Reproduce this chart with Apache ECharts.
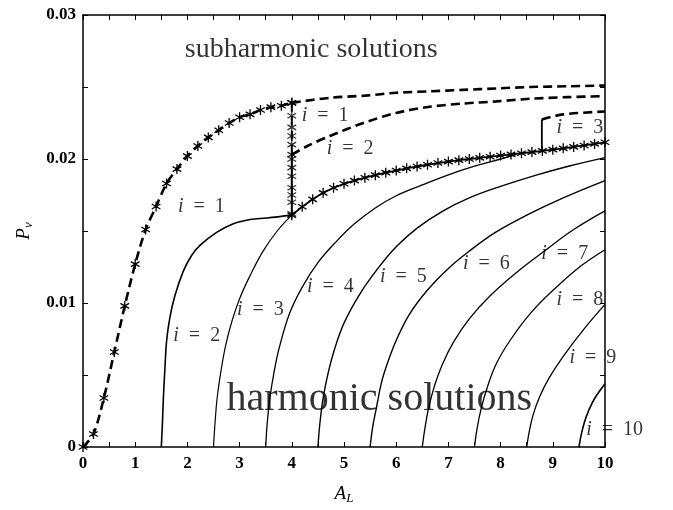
<!DOCTYPE html>
<html><head><meta charset="utf-8">
<script src="https://cdn.jsdelivr.net/npm/echarts@6/dist/echarts.min.js"></script>
<style>html,body{margin:0;padding:0;background:#fff}#c{width:673px;height:510px}</style>
</head><body><div id="c"></div>
<script>
// ---- data ----
const xTicks = [0,1,2,3,4,5,6,7,8,9,10];
const yTicks = [0,0.01,0.02,0.03];

// subharmonic i=1 branch (dashed, starred), from origin to A_L=4
const sub1Rise = [[0,0],[0.2,0.0009],[0.4,0.0034],[0.6,0.0066],[0.8,0.0098],[1.0,0.0127],[1.2,0.0151],[1.4,0.0167],[1.6,0.0183],[1.8,0.0193],[2.0,0.0202],[2.2,0.0209],[2.4,0.0215],[2.6,0.0220],[2.8,0.0225],[3.0,0.0229],[3.2,0.0231],[3.4,0.0234],[3.6,0.0236],[3.8,0.0237],[4.0,0.0239]];
const sub1Tail = [[4.0,0.0239],[4.73,0.02425],[5.4,0.0244],[6.0,0.0246],[6.64,0.0247],[7.28,0.0248],[7.92,0.0249],[8.56,0.0250],[9.3,0.02505],[10,0.0251]];
const jumpStarsY = [0.0239,0.0230,0.0222,0.0216,0.0210,0.0203,0.0200,0.0194,0.0188,0.0180,0.0175,0.0170,0.0162];
const jumpUpper = [[4,0.0239],[4,0.0203]];
const jumpLower = [[4,0.0203],[4,0.0161]];
const sub2 = [[4.0,0.0203],[4.3,0.0209],[4.73,0.0216],[5.37,0.0225],[6.0,0.0232],[6.64,0.02363],[7.28,0.02385],[7.92,0.0240],[8.56,0.02418],[9.3,0.0243],[10,0.02436]];
const sub3 = [[8.79,0.0206],[8.79,0.02275],[9.2,0.0231],[10,0.0233]];
// boundary harmonic/subharmonic (solid, starred)
const boundary = [[4.0,0.0161],[4.2,0.01668],[4.4,0.0172],[4.6,0.01765],[4.8,0.018],[5.0,0.01828],[5.2,0.0185],[5.4,0.0187],[5.6,0.01888],[5.8,0.01905],[6.0,0.0192],[6.2,0.01935],[6.4,0.01948],[6.6,0.0196],[6.8,0.01972],[7.0,0.01982],[7.2,0.01992],[7.4,0.02],[7.6,0.02008],[7.8,0.02016],[8.0,0.02024],[8.2,0.02032],[8.4,0.0204],[8.6,0.02048],[8.8,0.02056],[9.0,0.02065],[9.2,0.02074],[9.4,0.02084],[9.6,0.02094],[9.8,0.02105],[10,0.02116]];

// harmonic branches
const harmA = [[1.5,0],[1.52,0.0015],[1.54,0.0034],[1.57,0.0055],[1.6,0.0073],[1.66,0.0089],[1.76,0.0105],[1.92,0.0122],[2.08,0.0133],[2.24,0.014],[2.56,0.0149],[2.88,0.0155],[3.2,0.0158],[3.52,0.0159],[4.0,0.0161]];
const harmB = [[2.5,0],[2.53,0.0017],[2.57,0.0034],[2.64,0.0052],[2.73,0.007],[2.85,0.0087],[3.0,0.0103],[3.2,0.0119],[3.45,0.0136],[3.72,0.015],[4.0,0.0161]];
const harmC = [[3.5,0],[3.53,0.0017],[3.58,0.0034],[3.66,0.0052],[3.76,0.0069],[3.96,0.0093],[4.2,0.0111],[4.5,0.0128],[4.86,0.0143],[5.2,0.0155],[5.6,0.0166],[6.0,0.01745],[6.5,0.0182],[7.0,0.0189],[7.5,0.0195],[8.0,0.02],[8.3,0.0203]];
const harmD = [[4.5,0],[4.54,0.0017],[4.6,0.0034],[4.7,0.0052],[4.82,0.0068],[5.0,0.0086],[5.3,0.0106],[5.65,0.0124],[6.0,0.0139],[6.4,0.0152],[6.9,0.0164],[7.4,0.0173],[8.0,0.0181],[8.7,0.0189],[9.3,0.0195],[10,0.0201]];
const harmE = [[5.5,0],[5.55,0.0014],[5.62,0.0027],[5.72,0.0045],[5.85,0.006],[6.0,0.0074],[6.25,0.0092],[6.6,0.0109],[7.0,0.0124],[7.4,0.0136],[7.9,0.0149],[8.5,0.0161],[9.2,0.0173],[10,0.0185]];
const harmF = [[6.5,0],[6.55,0.0013],[6.62,0.0027],[6.73,0.0042],[6.88,0.0057],[7.1,0.0073],[7.4,0.0089],[7.8,0.0105],[8.3,0.0121],[8.8,0.0135],[9.4,0.0151],[10,0.0164]];
const harmG = [[7.5,0],[7.55,0.0013],[7.63,0.0027],[7.75,0.0042],[7.92,0.0058],[8.2,0.0075],[8.6,0.0094],[9.1,0.0112],[9.55,0.0126],[10,0.0137]];
const harmH = [[8.5,0],[8.55,0.0011],[8.62,0.0022],[8.75,0.0035],[8.93,0.0048],[9.2,0.0063],[9.6,0.0082],[10,0.0099]];
const harmI = [[9.5,0],[9.56,0.0011],[9.64,0.0021],[9.76,0.0031],[9.88,0.0038],[10,0.0044]];

const branchLabels = ['1','2','3','1','2','3','4','5','6','7','8','9','10'];
const regionTitles = ['subharmonic solutions','harmonic solutions'];

// ---- chart ----
const STAR = 'path://M0,-5L0,5M-4.33,-2.5L4.33,2.5M-4.33,2.5L4.33,-2.5';
const serif = 'Liberation Serif';
const chart = echarts.init(document.getElementById('c'), null, {renderer:'canvas'});

function solid(data, w){
  return {type:'line', data, xAxisIndex:0, yAxisIndex:0, showSymbol:false, symbol:'none',
    smooth:0.4, lineStyle:{color:'#000', width:w||1.3}, z:3, silent:true, animation:false};
}
function dashed(data, w){
  return {type:'line', data, xAxisIndex:0, yAxisIndex:0, showSymbol:false, symbol:'none',
    smooth:0.3, lineStyle:{color:'#000', width:w||2.6, type:[9,5]}, z:3, silent:true, animation:false};
}
const starStyle = {color:'rgba(0,0,0,0)', borderColor:'#000', borderWidth:1.3};

// label anchor points (left-middle of each text), in data coords
const labelAnchors = [[4.19,0.0230],[4.67,0.0207],[9.07,0.0222],[1.82,0.01665],[1.73,0.0077],[2.95,0.0095],[4.29,0.0111],[5.69,0.0118],[7.28,0.0127],[8.78,0.0134],[9.07,0.0102],[9.32,0.0062],[9.64,0.0012]];
const labelData = branchLabels.map((t,k)=>({value:labelAnchors[k], name:t}));
const titleAnchors = [[1.95,0.0276],[2.75,0.0033]];
const titleSizes = [28,40];

const subRich = {a:{fontFamily:serif, fontStyle:'italic', fontSize:19, color:'#000'}, s:{fontFamily:serif, fontStyle:'italic', fontSize:13, color:'#000', verticalAlign:'bottom', padding:[9,0,0,0]}};

const option = {
  animation:false,
  backgroundColor:'#fff',
  grid:{left:83, right:68, top:15, bottom:61},
  xAxis:[{
    type:'value', min:0, max:10, interval:1, position:'bottom',
    axisLine:{show:true, onZero:false, lineStyle:{color:'#000', width:1.5}},
    axisTick:{show:true, inside:true, length:5, lineStyle:{color:'#000', width:1}},
    minorTick:{show:true, splitNumber:2, length:5, lineStyle:{color:'#000', width:1}},
    splitLine:{show:false},
    axisLabel:{color:'#000', fontFamily:serif, fontWeight:'bold', fontSize:17, margin:8,
      formatter:v=>xTicks.includes(v)?String(v):''},
    name:'{a|A}{s|L}', nameLocation:'middle', nameGap:36,
    nameTextStyle:{rich:subRich}
  },{
    type:'value', min:0, max:10, interval:1, position:'top',
    axisLine:{show:true, onZero:false, lineStyle:{color:'#000', width:1.5}},
    axisTick:{show:true, inside:true, length:5, lineStyle:{color:'#000', width:1}},
    minorTick:{show:true, splitNumber:2, length:5, lineStyle:{color:'#000', width:1}},
    splitLine:{show:false}, axisLabel:{show:false}
  }],
  yAxis:[{
    type:'value', min:0, max:0.03, interval:0.01, position:'left',
    axisLine:{show:true, onZero:false, lineStyle:{color:'#000', width:1.5}},
    axisTick:{show:true, inside:true, length:5, lineStyle:{color:'#000', width:1}},
    minorTick:{show:true, splitNumber:2, length:5, lineStyle:{color:'#000', width:1}},
    splitLine:{show:false},
    axisLabel:{color:'#000', fontFamily:serif, fontWeight:'bold', fontSize:17, margin:7,
      formatter:v=>{const m=yTicks.find(t=>Math.abs(t-v)<1e-9); return m===undefined?'':(m===0?'0':m.toFixed(2));}},
    name:'{a|P}{s|v}', nameLocation:'middle', nameGap:48, nameRotate:90,
    nameTextStyle:{rich:subRich}
  },{
    type:'value', min:0, max:0.03, interval:0.01, position:'right',
    axisLine:{show:true, onZero:false, lineStyle:{color:'#000', width:1.5}},
    axisTick:{show:true, inside:true, length:5, lineStyle:{color:'#000', width:1}},
    minorTick:{show:true, splitNumber:2, length:5, lineStyle:{color:'#000', width:1}},
    splitLine:{show:false}, axisLabel:{show:false}
  }],
  series:[
    solid(harmA,1.6), solid(harmB,1.2), solid(harmC,1.3), solid(harmD,1.4), solid(harmE,1.4),
    solid(harmF,1.3), solid(harmG,1.3), solid(harmH,1.3), solid(harmI,1.6),
    Object.assign(solid(boundary,1.8), {smooth:false, showSymbol:true, symbol:STAR, symbolSize:10, symbolKeepAspect:true, itemStyle:starStyle}),
    Object.assign(dashed(sub1Rise,2.6), {showSymbol:true, symbol:STAR, symbolSize:10, symbolKeepAspect:true, itemStyle:starStyle}),
    dashed(sub1Tail,2.6),
    Object.assign(dashed(jumpUpper,2), {smooth:false}),
    Object.assign(solid(jumpLower,2), {smooth:false}),
    {type:'scatter', data:jumpStarsY.map(y=>[4,y]), symbol:STAR, symbolSize:10, symbolKeepAspect:true, itemStyle:starStyle, z:4, silent:true, animation:false},
    dashed(sub2,2.6),
    Object.assign(solid(sub3.slice(0,2),1.8), {smooth:false}),
    dashed(sub3.slice(1),2.6),
    {type:'scatter', data:labelData, symbolSize:0, z:5, silent:true, animation:false,
      label:{show:true, position:'right', distance:0, color:'#000', fontFamily:serif, fontSize:20,
        formatter:p=>'{i|i}  =  '+p.name, rich:{i:{fontFamily:serif, fontStyle:'italic', fontSize:20, color:'#000'}}}},
    {type:'scatter', data:regionTitles.map((t,k)=>({value:titleAnchors[k], name:t, label:{fontSize:titleSizes[k]}})),
      symbolSize:0, z:5, silent:true, animation:false,
      label:{show:true, position:'right', distance:0, color:'#000', fontFamily:serif, formatter:p=>p.name}}
  ]
};
chart.setOption(option);
</script></body></html>
